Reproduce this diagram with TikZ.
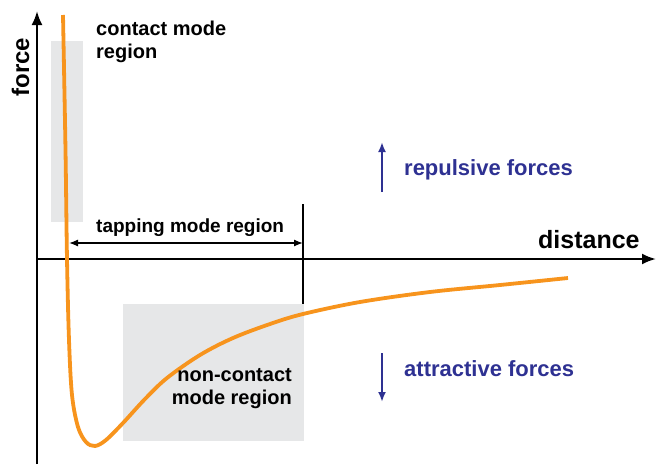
\documentclass[tikz,border=0pt]{standalone}
\usepackage{fontspec}
\setmainfont{Liberation Sans}
\usetikzlibrary{arrows.meta}
\definecolor{fblue}{HTML}{2E3192}
\definecolor{forange}{HTML}{F7941D}
\definecolor{fgray}{HTML}{E6E7E8}
\begin{document}
\begin{tikzpicture}[x=1pt,y=-1pt,
  region/.style={fill=fgray,draw=none},
  lbl/.style={inner sep=0pt,font=\bfseries\fontsize{20}{23}\selectfont},
  bluelbl/.style={inner sep=0pt,text=fblue,font=\bfseries\fontsize{22}{26}\selectfont},
  axis/.style={line width=2.3pt,-{Latex[length=14pt,width=11pt]}},
  forcearrow/.style={draw=fblue,line width=2.2pt,-{Latex[length=10pt,width=8pt]}},
  thin/.style={line width=1.3pt}]
\useasboundingbox (0,0) rectangle (657,464);
% regions
\fill[region] (51,41) rectangle (83,222);
% tapping marker
\coordinate (tapTop) at (303,204);
\coordinate (tapBot) at (303,304);
\draw[thin] (tapTop) -- (tapBot);
\fill[region] (123,304) rectangle (304,441);
% axes
\coordinate (origin) at (37,464);
\coordinate (ytip) at (37,11);
\coordinate (xstart) at (37,259);
\coordinate (xtip) at (656,259);
\draw[axis] (origin) -- (ytip);
\draw[axis] (xstart) -- (xtip);
% tapping arrow
\coordinate (tapL) at (69,243);
\coordinate (tapR) at (303,243);
\draw[thin,{Latex[length=9pt,width=7pt]}-{Latex[length=9pt,width=7pt]}] (tapL) -- (tapR);
% curve
\draw[forange,line width=3.8pt] plot[smooth,tension=0.55] coordinates
 {(63,15) (65.5,150) (67,259) (69,340) (72,395) (78,427) (86,442) (95,446) (106,440)
  (123,423) (145,399) (167,378) (200,355) (233,338) (270,324) (303,314) (360,302)
  (430,292) (500,285) (568,278)};
% labels
\node[lbl,anchor=base,rotate=90,font=\bfseries\fontsize{24}{28}\selectfont] (force) at (29,67) {force};
\node[lbl,anchor=base west,font=\bfseries\fontsize{25}{28}\selectfont] (dist) at (538,248) {distance};
\node[lbl,anchor=base west,align=left] (contact) at (96,58) {contact mode\\region};
\node[lbl,anchor=base west,font=\bfseries\fontsize{19}{23}\selectfont] (tap) at (96,232) {tapping mode region};
\node[lbl,anchor=base east,align=right] (noncontact) at (292,404) {non-contact\\mode region};
\node[bluelbl,anchor=base west] (rep) at (404,175) {repulsive forces};
\node[bluelbl,anchor=base west] (att) at (404,376) {attractive forces};
\coordinate (repA) at (382,192);
\coordinate (repB) at (382,142);
\coordinate (attA) at (382,353);
\coordinate (attB) at (382,402);
\draw[forcearrow] (repA) -- (repB);
\draw[forcearrow] (attA) -- (attB);
\end{tikzpicture}
\end{document}
